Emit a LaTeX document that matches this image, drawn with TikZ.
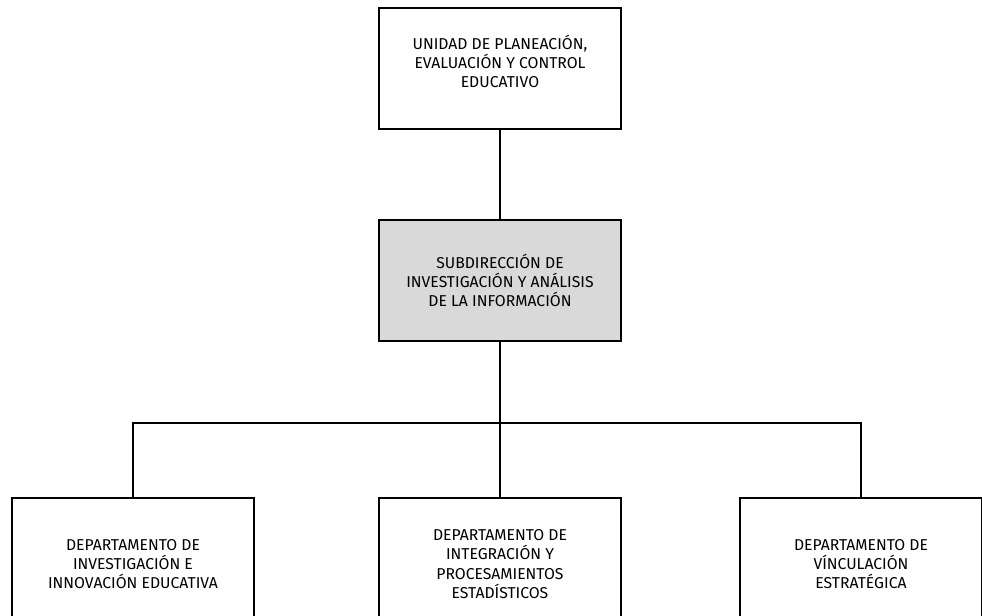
\documentclass[tikz,border=0pt]{standalone}
\usepackage{fontspec}
\setmainfont{Fira Sans}
\begin{document}
\begin{tikzpicture}[level 1/.style={level distance=159pt},
                    level 2/.style={sibling distance=273pt, level distance=212.6pt},
                    edge from parent path={(\tikzparentnode.south) -- ++(0,-60.75pt) -| (\tikzchildnode.north)},
                    line width=1.5pt,
                    ]
    \tikzstyle{unit}=[rectangle,draw=black,fill=white,line width=1.5pt,minimum width=181.5pt,minimum height=90.75pt,align=center,inner sep=2pt,font=\fontsize{11.8}{14.5}\selectfont]
    \tikzstyle{subunit}=[unit, fill=gray!30];
    \tikzstyle{dept}=[unit, minimum height=99pt];

    \clip (-375pt,51.4pt) rectangle (361.5pt,-409.9pt);

    \node[unit] (unidad) {UNIDAD DE PLANEACIÓN,\\EVALUACIÓN Y CONTROL\\EDUCATIVO\\[-3.75pt]\mbox{}}
            child { node[subunit] (subdir) {SUBDIRECCIÓN DE\\INVESTIGACIÓN Y ANÁLISIS\\DE LA INFORMACIÓN}
                child[xshift=-2.25pt] { node[dept] (invest) {DEPARTAMENTO DE\\INVESTIGACIÓN E\\INNOVACIÓN EDUCATIVA}}
                child { node[dept] (integ) {DEPARTAMENTO DE\\INTEGRACIÓN Y\\PROCESAMIENTOS\\ESTADÍSTICOS}}
                child[xshift=-2.25pt] { node[dept] (vinc) {DEPARTAMENTO DE\\VÍNCULACIÓN\\ESTRATÉGICA}}
            }
        ;
\end{tikzpicture}
\end{document}
